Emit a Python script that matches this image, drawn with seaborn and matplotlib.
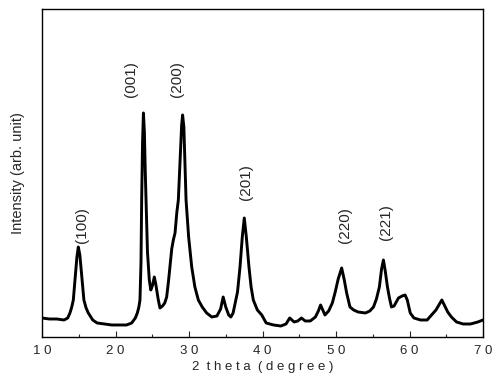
import numpy as np
import pandas as pd
import matplotlib
matplotlib.use("Agg")
import matplotlib.pyplot as plt
import seaborn as sns
from matplotlib.ticker import MultipleLocator

# XRD 图谱数据
two_theta = [10.0, 11.0, 12.0, 13.0, 13.5, 13.8, 14.05, 14.26, 14.5, 14.75, 14.94, 15.15,
             15.4, 15.7, 16.0, 16.3, 16.9, 17.5, 18.5, 19.5, 20.5, 21.5, 22.2, 22.7, 22.97,
             23.18, 23.33, 23.47, 23.56, 23.68, 23.8, 23.93, 24.05, 24.15, 24.35, 24.6,
             24.8, 25.05, 25.28, 25.5, 25.8, 26.05, 26.4, 26.7, 26.96, 27.2, 27.4, 27.65,
             27.87, 28.1, 28.35, 28.55, 28.8, 29.0, 29.13, 29.3, 29.6, 29.95, 30.37, 30.8,
             31.27, 31.8, 32.4, 33.1, 33.8, 34.3, 34.65, 35.0, 35.4, 35.7, 36.0, 36.26,
             36.6, 36.94, 37.25, 37.52, 37.8, 38.16, 38.45, 38.75, 39.3, 39.9, 40.5, 41.5,
             42.5, 43.2, 43.7, 44.3, 44.8, 45.3, 45.8, 46.5, 47.2, 47.6, 47.9, 48.2, 48.5,
             49.0, 49.5, 49.86, 50.3, 50.77, 51.1, 51.45, 51.9, 52.4, 53.0, 54.0, 54.6,
             55.1, 55.5, 55.9, 56.2, 56.45, 56.7, 57.0, 57.3, 57.55, 57.9, 58.5, 59.0,
             59.4, 59.7, 60.1, 60.6, 61.5, 62.4, 63.0, 63.6, 64.0, 64.4, 64.8, 65.2, 65.7,
             66.4, 67.3, 68.3, 69.3, 70.0]
intensity = [19, 18, 18, 17, 19, 24, 30, 37, 58, 80, 90, 82,
             62, 37, 29, 24, 17, 14, 13, 12, 12, 12, 14, 19, 24,
             30, 37, 75, 137, 195, 224, 205, 165, 137, 85, 57,
             47, 52, 60, 52, 38, 29, 31, 34, 40, 55, 70, 88,
             97, 104, 125, 137, 180, 212, 222, 210, 137, 100, 70, 50,
             37, 30, 24, 20, 21, 28, 40, 30, 22, 20, 24, 33,
             45, 70, 100, 119, 100, 70, 50, 37, 27, 22, 14, 12,
             11, 13, 19, 15, 16, 19, 16, 16, 20, 26, 32, 27, 22,
             26, 34, 44, 58, 69, 58, 44, 30, 27, 25, 24, 26,
             30, 38, 50, 68, 77, 66, 50, 38, 30, 31, 39, 41,
             42, 37, 24, 19, 17, 17, 22, 27, 32, 37, 31, 25, 20,
             15, 13, 13, 15, 17]

# 晶面标注
hkl_labels = ["(100)", "(001)", "(200)", "(201)", "(220)", "(221)"]
hkl_x = [15.45, 22.1, 28.4, 37.75, 51.2, 56.8]
hkl_y = [94, 240, 240, 137, 94, 97]

df = pd.DataFrame({"2theta": two_theta, "I": intensity})

sns.set_style("ticks")
plt.rcParams['font.family'] = ['Liberation Sans', 'DejaVu Sans']

fig = plt.figure(figsize=(5, 3.85), dpi=100)
ax = fig.add_axes([0.084, 0.1247, 0.882, 0.852])

sns.lineplot(data=df, x="2theta", y="I", ax=ax, color="black", linewidth=2.1)

for lab, x, y in zip(hkl_labels, hkl_x, hkl_y):
    ax.text(x, y, lab, rotation=90, ha="center", va="bottom", fontsize=11)

ax.set_xlim(10, 70)
ax.set_ylim(0, 328)
ax.xaxis.set_minor_locator(MultipleLocator(5))
ax.set_xticks(range(10, 71, 10))
ax.set_xticklabels([" ".join(str(v)) for v in range(10, 71, 10)], fontsize=9.5)
ax.set_yticks([])
ax.tick_params(axis="x", which="major", direction="in", length=4, width=0.8, pad=6)
ax.tick_params(axis="x", which="minor", direction="in", length=2.5, width=0.8)
for s in ax.spines.values():
    s.set_visible(True)
    s.set_color("black")
    s.set_linewidth(1.0)

ax.set_xlabel("2  t h e t a  ( d e g r e e )", fontsize=9.5, labelpad=3)
ax.set_ylabel("Intensity (arb. unit)", fontsize=10.5, labelpad=12)

fig.savefig("out.png", dpi=100)
